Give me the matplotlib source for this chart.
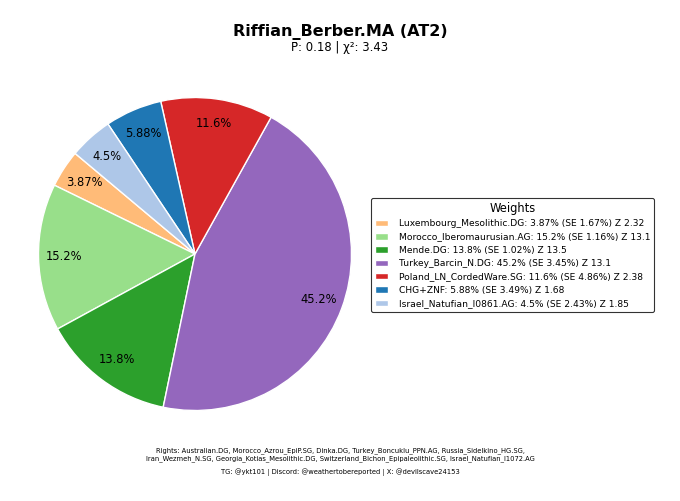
import matplotlib
matplotlib.use("Agg")
import matplotlib.pyplot as plt

# 成分と比率
sources = ["Luxembourg_Mesolithic.DG", "Morocco_Iberomaurusian.AG", "Mende.DG",
           "Turkey_Barcin_N.DG", "Poland_LN_CordedWare.SG", "CHG+ZNF",
           "Israel_Natufian_I0861.AG"]
weights = [3.87, 15.2, 13.8, 45.2, 11.6, 5.88, 4.5]
se = [1.67, 1.16, 1.02, 3.45, 4.86, 3.49, 2.43]
zscore = [2.32, 13.1, 13.5, 13.1, 2.38, 1.68, 1.85]
colors = ["#ffbb78", "#98df8a", "#2ca02c", "#9467bd", "#d62728", "#1f77b4", "#aec7e8"]

title = "Riffian_Berber.MA (AT2)"
subtitle = "P\u0304: 0.18 | \u03c7\u00b2: 3.43"
rights = ("Rights: Australian.DG, Morocco_Azrou_EpiP.SG, Dinka.DG, Turkey_Boncuklu_PPN.AG, Russia_Sidelkino_HG.SG,\n"
          "Iran_Wezmeh_N.SG, Georgia_Kotias_Mesolithic.DG, Switzerland_Bichon_Epipaleolithic.SG, Israel_Natufian_I1072.AG")
credits = "TG: @ykt101 | Discord: @weathertobereported | X: @devilscave24153"

fig = plt.figure(figsize=(6.8, 5.01), dpi=100)
ax = fig.add_axes([0.0566, 0.1806, 0.4603, 0.6248])

total = sum(weights)
wedges, texts, autotexts = ax.pie(
    weights, colors=colors, startangle=140, counterclock=True,
    autopct=lambda p: "{:.3g}%".format(p * total / 100),
    pctdistance=0.84, wedgeprops=dict(edgecolor="white", linewidth=1),
    textprops=dict(fontsize=8.3))
ax.set_xlim(-1, 1)
ax.set_ylim(-1, 1)
ax.set_aspect("equal")

labels = ["{}: {:.3g}% (SE {:.3g}%) Z {:.3g}".format(s, w, e, z)
          for s, w, e, z in zip(sources, weights, se, zscore)]
leg = fig.legend(wedges, labels, title="Weights", loc="center left",
                 bbox_to_anchor=(0.539, 0.491), fontsize=6.6, title_fontsize=8.3,
                 frameon=True, edgecolor="black", fancybox=True,
                 handlelength=1.4, handletextpad=1.2, labelspacing=0.47)
leg.get_frame().set_linewidth(0.8)

fig.text(0.5, 0.936, title, ha="center", va="center", fontsize=11.5, fontweight="bold")
fig.text(0.5, 0.906, subtitle, ha="center", va="center", fontsize=8.4)
fig.text(0.5, 0.092, rights, ha="center", va="center", fontsize=4.9, linespacing=1.3)
fig.text(0.5, 0.058, credits, ha="center", va="center", fontsize=4.9)

fig.savefig("out.png", dpi=100)
